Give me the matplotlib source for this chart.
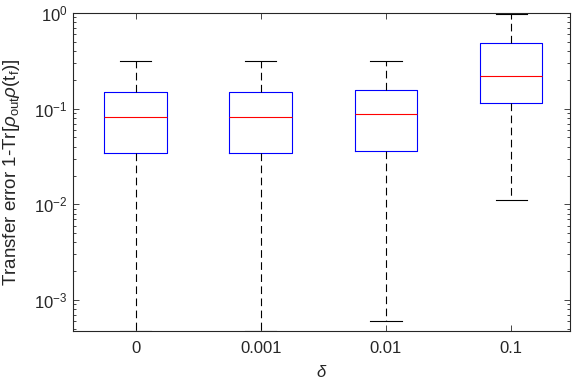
import matplotlib
matplotlib.use("Agg")
import matplotlib.pyplot as plt
from matplotlib.ticker import LogLocator

plt.rcParams['font.family'] = ['Liberation Sans', 'DejaVu Sans']
plt.rcParams['mathtext.fontset'] = 'custom'
plt.rcParams['mathtext.rm'] = 'Liberation Sans'
plt.rcParams['mathtext.it'] = 'Liberation Sans:italic'
plt.rcParams['mathtext.sf'] = 'Liberation Sans'
plt.rcParams['lines.scale_dashes'] = False

# values
labels = ["0", "0.001", "0.01", "0.1"]
medians = [0.0826, 0.0826, 0.0887, 0.222]
q1 = [0.0342, 0.0342, 0.0365, 0.1137]
q3 = [0.149, 0.149, 0.158, 0.483]
whis_lo = [4.75e-4, 4.75e-4, 6.0e-4, 0.011]
whis_hi = [0.316, 0.316, 0.316, 0.98]

stats = []
for i in range(len(labels)):
    stats.append(dict(med=medians[i], q1=q1[i], q3=q3[i],
                      whislo=whis_lo[i], whishi=whis_hi[i], fliers=[]))

fig = plt.figure(figsize=(5.76, 3.84), dpi=100)
ax = fig.add_axes([73 / 576, 53 / 384, 497 / 576, 318 / 384])

ax.bxp(stats, positions=[1, 2, 3, 4], widths=0.5, showfliers=False,
       boxprops=dict(color="blue", linewidth=0.8),
       medianprops=dict(color="red", linewidth=0.8),
       whiskerprops=dict(color="black", linewidth=0.8, linestyle=(0, (5.5, 3.2))),
       capprops=dict(color="black", linewidth=0.8))

ax.set_yscale("log")
ax.set_ylim(4.75e-4, 1)
ax.set_xlim(0.5, 4.47)
ax.set_xticks([1, 2, 3, 4])
ax.set_xticklabels(labels)
ax.yaxis.set_minor_locator(LogLocator(base=10, subs=range(2, 10), numticks=20))

ax.tick_params(which="both", direction="in", top=True, right=True,
               labelsize=12, width=0.6, color="#262626", labelcolor="#262626")
ax.tick_params(which="major", length=4)
ax.tick_params(which="minor", length=2)
ax.tick_params(axis="x", pad=7)
ax.tick_params(axis="y", pad=4)
for s in ax.spines.values():
    s.set_linewidth(0.8)
    s.set_color("#262626")

ax.set_ylabel(r"Transfer error 1-Tr[$\rho_{\mathrm{out}}\rho(\mathrm{t}_{\mathrm{f}})$]",
              fontsize=13.5, color="#262626", labelpad=9)
ax.set_xlabel(r"$\delta$", fontsize=12, color="#262626", labelpad=6)

fig.savefig("out.png", dpi=100)
